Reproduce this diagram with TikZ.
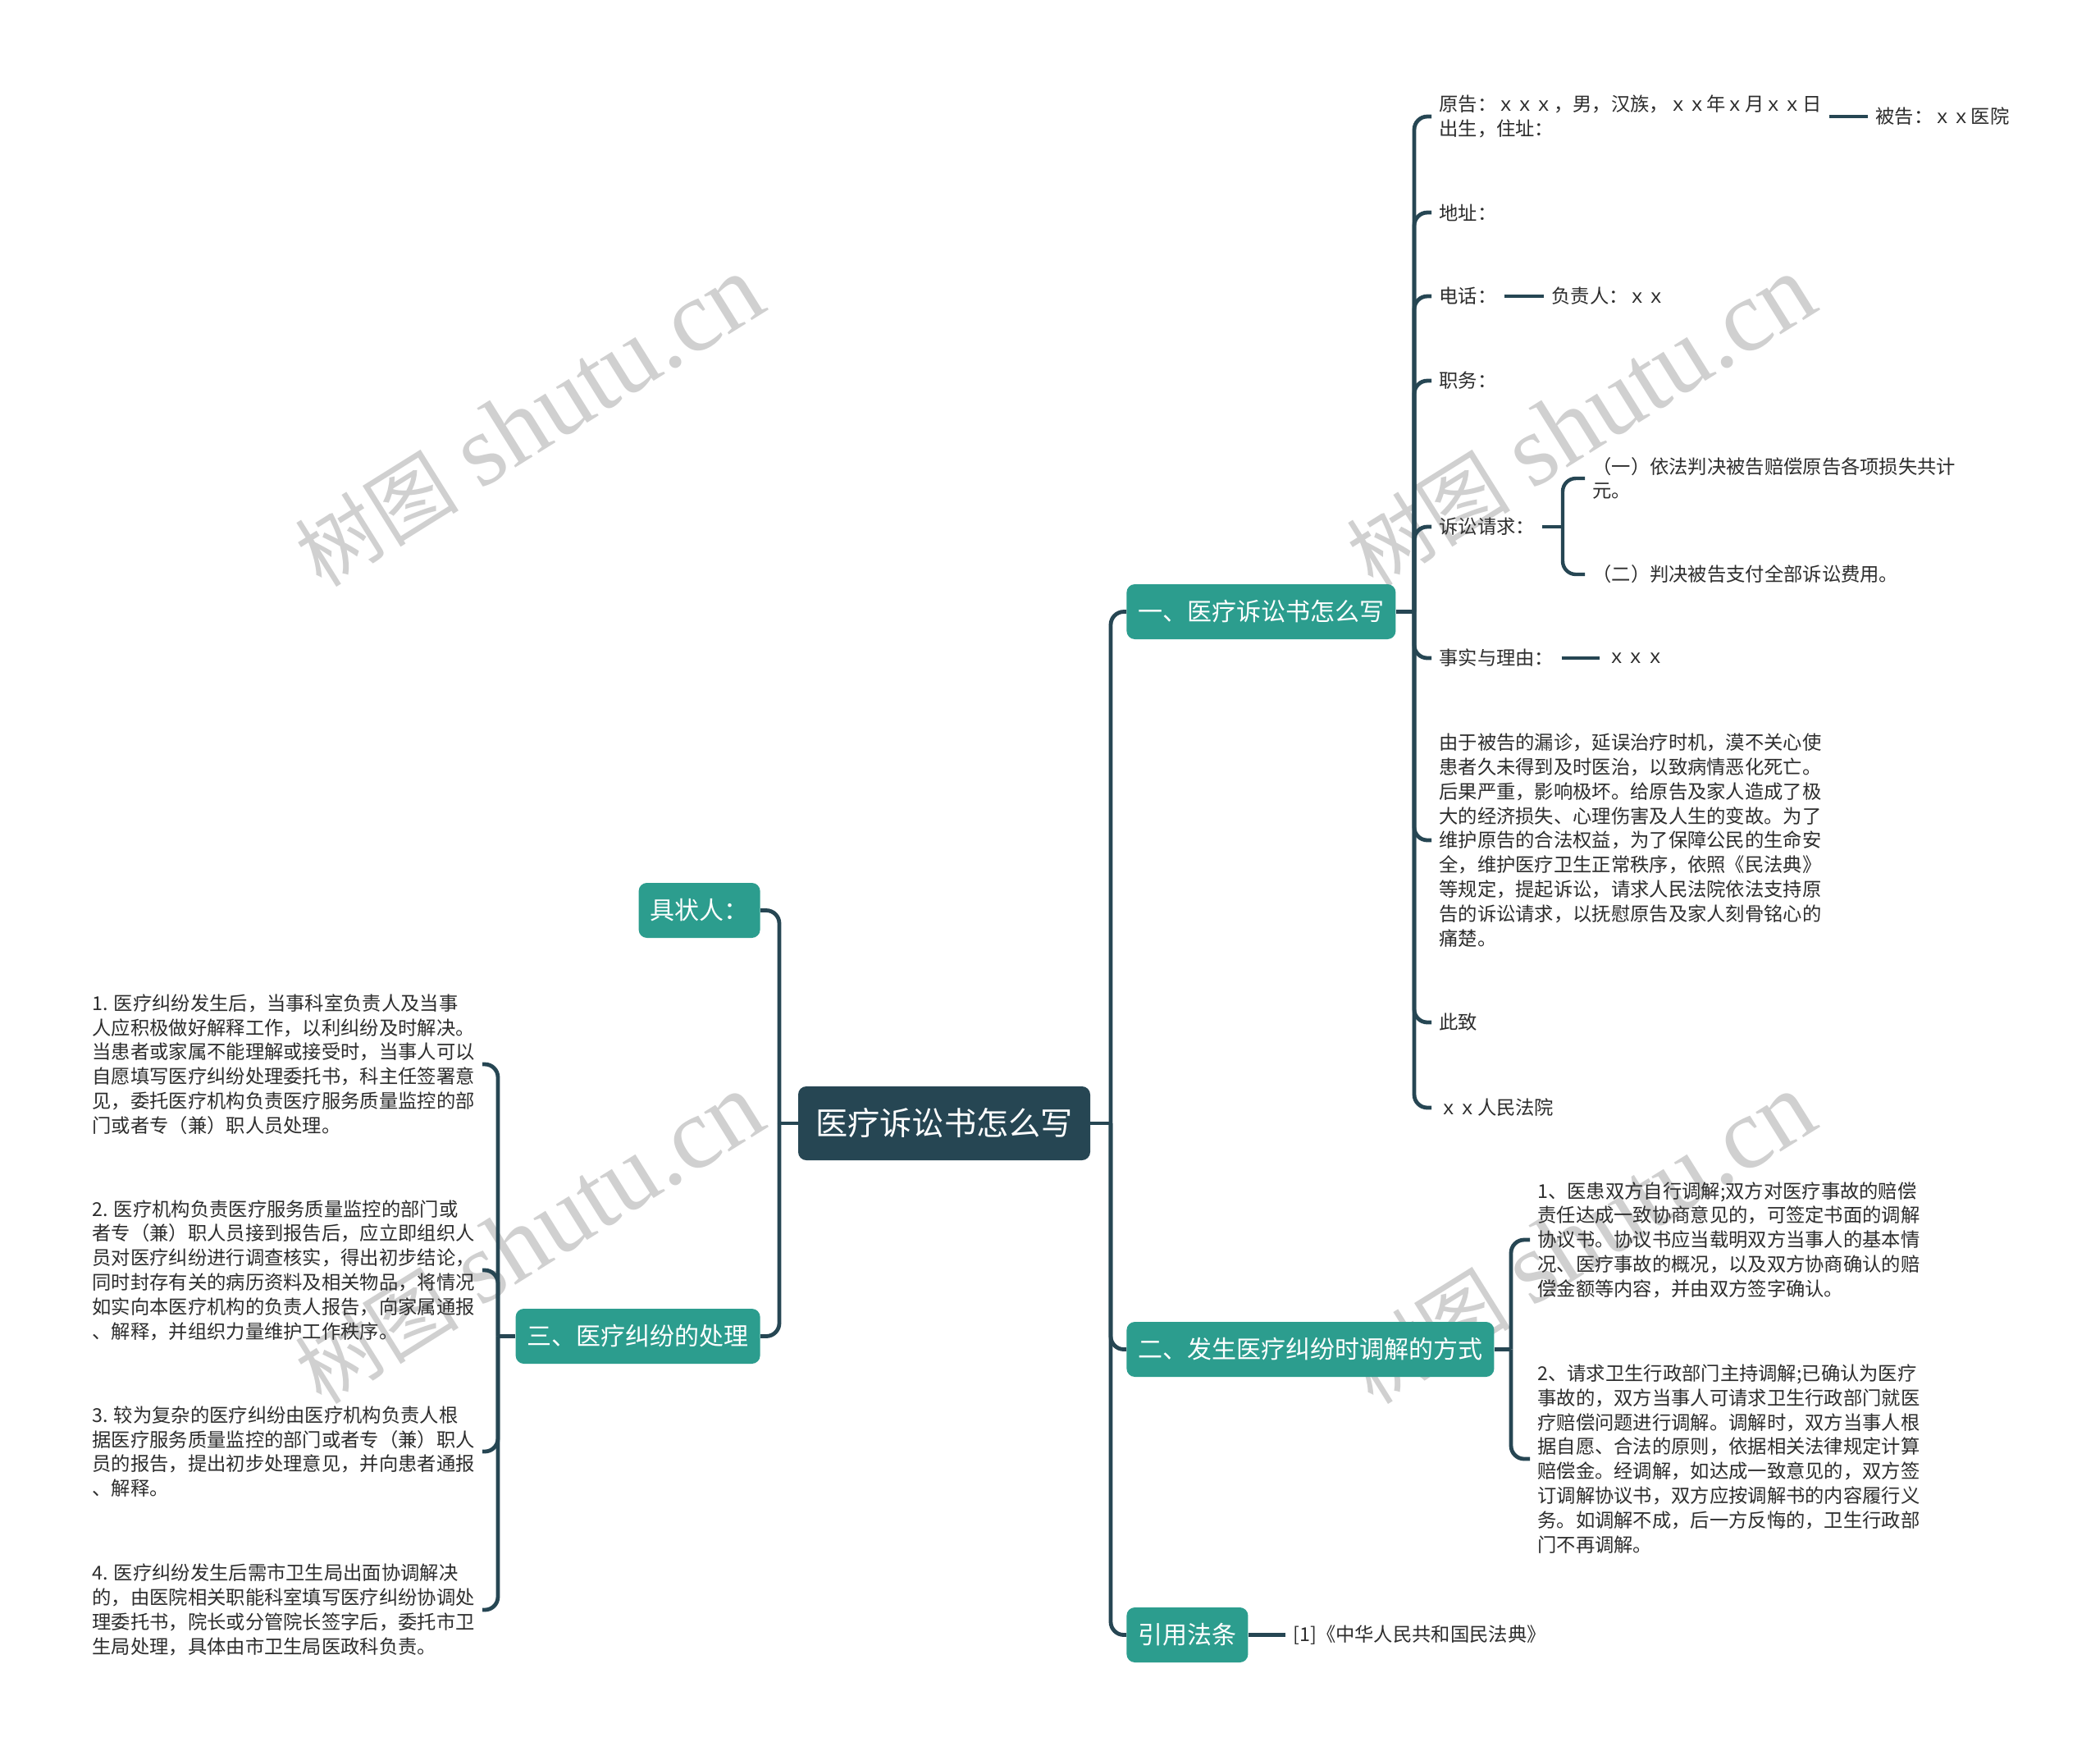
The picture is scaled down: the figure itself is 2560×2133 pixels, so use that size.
\documentclass[tikz,border=0pt]{standalone}
\usepackage{fontspec}
\setmainfont{Noto Sans CJK SC}
\newfontfamily\wmlatin{Liberation Serif}
\usetikzlibrary{calc}
\definecolor{tealbox}{RGB}{44,157,142}
\definecolor{darkbox}{RGB}{38,70,83}
\definecolor{leaftext}{RGB}{45,45,45}
\definecolor{wmgray}{RGB}{208,208,208}
\tikzset{
 rootbox/.style={fill=darkbox, text=white, rounded corners=5pt, minimum width=178pt, minimum height=45pt, inner sep=0pt, font=\fontsize{19.6pt}{24pt}\selectfont},
 branchbox/.style={fill=tealbox, text=white, rounded corners=5pt, minimum height=33.5pt, inner xsep=7pt, inner ysep=0pt, font=\fontsize{15pt}{18pt}\selectfont},
 leaf/.style={text=leaftext, align=left, inner xsep=4.5pt, inner ysep=2pt, font=\fontsize{11.65pt}{14.9pt}\selectfont},
 link/.style={draw=darkbox, line width=2.4pt, rounded corners=8pt},
 sublink/.style={draw=darkbox, line width=2.2pt, rounded corners=8pt},
 watermark/.style={text=wmgray, rotate=32, inner sep=0pt},
}
\newcommand{\wmtext}{{\fontsize{50pt}{60pt}\selectfont 树图}\hspace{14pt}{\wmlatin\fontsize{62pt}{70pt}\selectfont shutu.cn}}
\begin{document}
\begin{tikzpicture}[x=0.5pt, y=-0.5pt]
\useasboundingbox (0,0) rectangle (2560,2133);
\fill[white] (0,0) rectangle (2560,2133);

% watermarks
\node[watermark] (wm1) at (645,514) {\wmtext};
\node[watermark] (wm2) at (1927,514) {\wmtext};
\node[watermark] (wm3) at (645,1510) {\wmtext};
\node[watermark] (wm4) at (1927,1510) {\wmtext};

% root and branches
\node[rootbox] (root) at (1151,1369) {医疗诉讼书怎么写};
\node[branchbox, anchor=west] (b1) at (1373,745.5) {一、医疗诉讼书怎么写};
\node[branchbox, anchor=west] (b2) at (1373,1644.5) {二、发生医疗纠纷时调解的方式};
\node[branchbox, anchor=west] (b3) at (1373,1992.5) {引用法条};
\node[branchbox, anchor=east] (b4) at (927,1109.5) {具状人：};
\node[branchbox, anchor=east] (b5) at (927,1628.5) {三、医疗纠纷的处理};

\coordinate (rt) at (1354,1369);
\coordinate (lt) at (950,1369);
\draw[link] (root.east) -- (rt);
\draw[link] (rt) |- (b1.west);
\draw[link] (rt) |- (b2.west);
\draw[link] (rt) |- (b3.west);
\draw[link] (root.west) -- (lt);
\draw[link] (lt) |- (b4.east);
\draw[link] (lt) |- (b5.east);

% branch 1 children
\node[leaf, anchor=west] (c11) at (1745,142) {原告：ｘｘｘ，男，汉族，ｘｘ年ｘ月ｘｘ日\\出生，住址：};
\node[leaf, anchor=west] (c12) at (1745,259) {地址：};
\node[leaf, anchor=west] (c13) at (1745,361) {电话：};
\node[leaf, anchor=west] (c14) at (1745,464) {职务：};
\node[leaf, anchor=west] (c15) at (1745,642) {诉讼请求：};
\node[leaf, anchor=west] (c16) at (1745,802) {事实与理由：};
\node[leaf, anchor=west] (c17) at (1745,1024) {由于被告的漏诊，延误治疗时机，漠不关心使\\患者久未得到及时医治，以致病情恶化死亡。\\后果严重，影响极坏。给原告及家人造成了极\\大的经济损失、心理伤害及人生的变故。为了\\维护原告的合法权益，为了保障公民的生命安\\全，维护医疗卫生正常秩序，依照《民法典》\\等规定，提起诉讼，请求人民法院依法支持原\\告的诉讼请求，以抚慰原告及家人刻骨铭心的\\痛楚。};
\node[leaf, anchor=west] (c18) at (1745,1246) {此致};
\node[leaf, anchor=west] (c19) at (1745,1350) {ｘｘ人民法院};

\coordinate (t1) at (1724,745.5);
\draw[link] (b1.east) -- (t1);
\foreach \c in {c11,c12,c13,c14,c15,c16,c17,c18,c19}{
  \draw[link] (t1) |- (\c.west);
}

% grandchildren of branch 1
\node[leaf, anchor=west] (c11a) at (2277,142) {被告：ｘｘ医院};
\draw[sublink] (c11.east) -- (c11a.west);
\node[leaf, anchor=west] (c13a) at (1882,361) {负责人：ｘｘ};
\draw[sublink] (c13.east) -- (c13a.west);
\node[leaf, anchor=west] (c15a) at (1932,583) {（一）依法判决被告赔偿原告各项损失共计\\元。};
\node[leaf, anchor=west] (c15b) at (1932,700) {（二）判决被告支付全部诉讼费用。};
\coordinate (t15) at (1905,642);
\draw[sublink] (c15.east) -- (t15);
\draw[sublink] (t15) |- (c15a.west);
\draw[sublink] (t15) |- (c15b.west);
\node[leaf, anchor=west] (c16a) at (1950,802) {ｘｘｘ};
\draw[sublink] (c16.east) -- (c16a.west);

% branch 2 children
\node[leaf, anchor=west] (c21) at (1865,1511) {1、医患双方自行调解;双方对医疗事故的赔偿\\责任达成一致协商意见的，可签定书面的调解\\协议书。协议书应当载明双方当事人的基本情\\况、医疗事故的概况，以及双方协商确认的赔\\偿金额等内容，并由双方签字确认。};
\node[leaf, anchor=west] (c22) at (1865,1778) {2、请求卫生行政部门主持调解;已确认为医疗\\事故的，双方当事人可请求卫生行政部门就医\\疗赔偿问题进行调解。调解时，双方当事人根\\据自愿、合法的原则，依据相关法律规定计算\\赔偿金。经调解，如达成一致意见的，双方签\\订调解协议书，双方应按调解书的内容履行义\\务。如调解不成，后一方反悔的，卫生行政部\\门不再调解。};
\coordinate (t2) at (1842,1644.5);
\draw[link] (b2.east) -- (t2);
\draw[link] (t2) |- (c21.west);
\draw[link] (t2) |- (c22.west);

% branch 3 child
\node[leaf, anchor=west] (c31) at (1567,1992.5) {[1]《中华人民共和国民法典》};
\draw[link] (b3.east) -- (c31.west);

% branch 5 children (left)
\node[leaf, anchor=east] (c51) at (588,1297) {1. 医疗纠纷发生后，当事科室负责人及当事\\人应积极做好解释工作，以利纠纷及时解决。\\当患者或家属不能理解或接受时，当事人可以\\自愿填写医疗纠纷处理委托书，科主任签署意\\见，委托医疗机构负责医疗服务质量监控的部\\门或者专（兼）职人员处理。};
\node[leaf, anchor=east] (c52) at (588,1548) {2. 医疗机构负责医疗服务质量监控的部门或\\者专（兼）职人员接到报告后，应立即组织人\\员对医疗纠纷进行调查核实，得出初步结论，\\同时封存有关的病历资料及相关物品，将情况\\如实向本医疗机构的负责人报告，向家属通报\\、解释，并组织力量维护工作秩序。};
\node[leaf, anchor=east] (c53) at (588,1769) {3. 较为复杂的医疗纠纷由医疗机构负责人根\\据医疗服务质量监控的部门或者专（兼）职人\\员的报告，提出初步处理意见，并向患者通报\\、解释。};
\node[leaf, anchor=east] (c54) at (588,1962) {4. 医疗纠纷发生后需市卫生局出面协调解决\\的，由医院相关职能科室填写医疗纠纷协调处\\理委托书，院长或分管院长签字后，委托市卫\\生局处理，具体由市卫生局医政科负责。};
\coordinate (t5) at (607,1628.5);
\draw[link] (b5.west) -- (t5);
\foreach \c in {c51,c52,c53,c54}{
  \draw[link] (t5) |- (\c.east);
}
\end{tikzpicture}
\end{document}
